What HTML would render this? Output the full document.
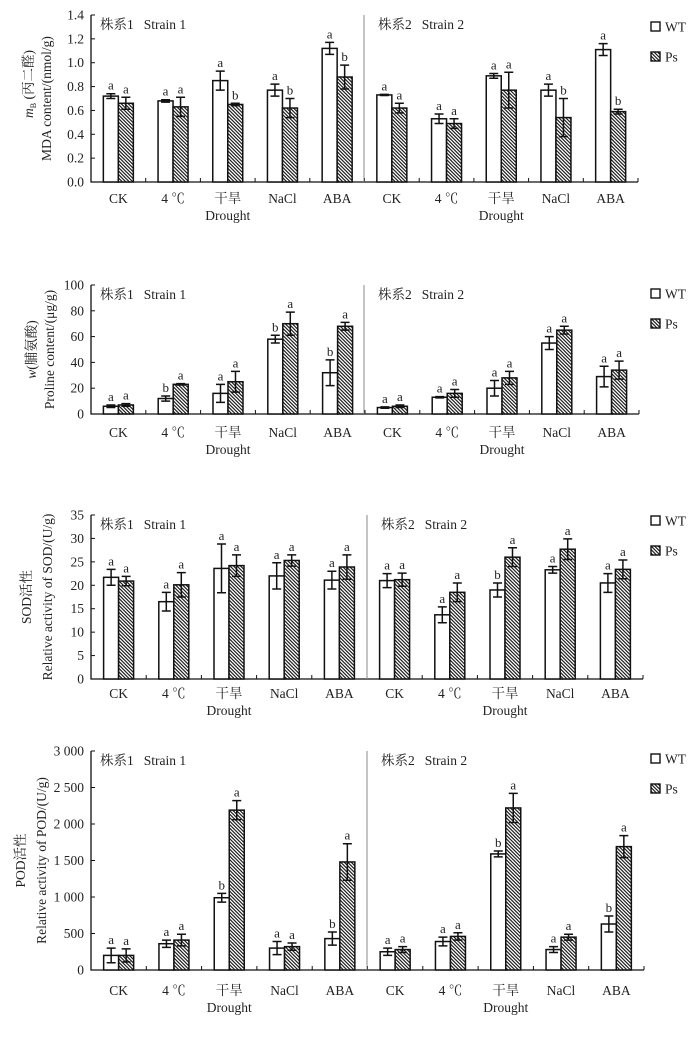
<!DOCTYPE html>
<html><head><meta charset="utf-8">
<style>
html,body{margin:0;padding:0;background:#fff;}
svg{display:block;font-family:"Liberation Serif","Noto Serif CJK SC","Noto Sans CJK SC",serif;}
</style></head>
<body>
<svg id="fig" width="700" height="1039" viewBox="0 0 700 1039" xmlns="http://www.w3.org/2000/svg">
<defs>
<pattern id="hatch" patternUnits="userSpaceOnUse" width="3.5" height="3.5">
<rect width="3.5" height="3.5" fill="#fff"/>
<path d="M0 0L3.5 3.5M-1 2.5L1 4.5M2.5 -1L4.5 1" stroke="#222" stroke-width="1.2"/>
</pattern>
</defs>
</svg>
<script>
// Shared categories
const categories = ["CK", "4 ℃", "干旱", "NaCl", "ABA"];

// Panel 1: MDA
const mdaTicks = ["0.0","0.2","0.4","0.6","0.8","1.0","1.2","1.4"];
const mdaWT1 = [0.72,0.68,0.85,0.77,1.12];
const mdaWT1Err = [0.02,0.01,0.08,0.05,0.05];
const mdaPs1 = [0.66,0.63,0.65,0.62,0.88];
const mdaPs1Err = [0.05,0.08,0.01,0.08,0.10];
const mdaWT2 = [0.73,0.53,0.89,0.77,1.11];
const mdaWT2Err = [0.005,0.04,0.02,0.05,0.05];
const mdaPs2 = [0.62,0.49,0.77,0.54,0.59];
const mdaPs2Err = [0.04,0.04,0.15,0.16,0.02];
const mdaWT1Let = ["a","a","a","a","a"], mdaPs1Let = ["a","a","b","b","b"];
const mdaWT2Let = ["a","a","a","a","a"], mdaPs2Let = ["a","a","a","b","b"];

// Panel 2: Proline
const proTicks = ["0","20","40","60","80","100"];
const proWT1 = [6,12,16,58,32];
const proWT1Err = [1,2,7,3,10];
const proPs1 = [7,23,25,70,68];
const proPs1Err = [1,0.5,8,9,3];
const proWT2 = [5,13,20,55,29];
const proWT2Err = [0.5,0.5,6,5,8];
const proPs2 = [6,16,28,65,34];
const proPs2Err = [1,3,5,3,7];
const proWT1Let = ["a","b","a","b","b"], proPs1Let = ["a","a","a","a","a"];
const proWT2Let = ["a","a","a","a","a"], proPs2Let = ["a","a","a","a","a"];

// Panel 3: SOD
const sodTicks = ["0","5","10","15","20","25","30","35"];
const sodWT1 = [21.7,16.5,23.6,22,21.1];
const sodWT1Err = [1.7,2,5.2,2.8,1.9];
const sodPs1 = [20.9,20.1,24.2,25.3,23.9];
const sodPs1Err = [1,2.6,2.3,1.2,2.6];
const sodWT2 = [21,13.7,19,23.3,20.5];
const sodWT2Err = [1.5,1.7,1.5,0.7,2];
const sodPs2 = [21.2,18.5,26,27.7,23.4];
const sodPs2Err = [1.4,2,2,2.2,2];
const sodWT1Let = ["a","a","a","a","a"], sodPs1Let = ["a","a","a","a","a"];
const sodWT2Let = ["a","a","b","a","a"], sodPs2Let = ["a","a","a","a","a"];

// Panel 4: POD
const podTicks = ["0","500","1 000","1 500","2 000","2 500","3 000"];
const podWT1 = [200,360,990,300,430];
const podWT1Err = [100,50,60,90,90];
const podPs1 = [200,410,2190,320,1480];
const podPs1Err = [90,80,130,50,250];
const podWT2 = [250,390,1590,280,630];
const podWT2Err = [50,60,40,40,110];
const podPs2 = [280,460,2220,450,1690];
const podPs2Err = [40,50,200,40,150];
const podWT1Let = ["a","a","b","a","b"], podPs1Let = ["a","a","a","a","a"];
const podWT2Let = ["a","a","b","a","b"], podPs2Let = ["a","a","a","a","a"];

const NS = "http://www.w3.org/2000/svg";
const svg = document.getElementById("fig");
function mk(tag, attrs, parent, text){
  const e = document.createElementNS(NS, tag);
  for (const k in attrs) e.setAttribute(k, attrs[k]);
  if (text !== undefined) e.textContent = text;
  (parent||svg).appendChild(e);
  return e;
}

function panel(cfg){
  const g = mk("g", {});
  
  
  const xL = 91, xR = cfg.xR, y0 = cfg.y0, yT = cfg.yT, max = cfg.max;
  const ys = v => y0 - (v/max)*(y0-yT);
  const gw = (xR-xL)/10;
  const gc = i => xL + gw*(i+0.5);
  const ax = mk("path", {d:`M${xL} ${yT}V${y0}H${xR}`, stroke:"#111", "stroke-width":1.3, fill:"none"}, g);
  
  
  cfg.ticks.forEach((t,i)=>{
    const v = max*i/(cfg.ticks.length-1);
    const y = ys(v);
    mk("line",{x1:xL,x2:xL+4,y1:y,y2:y,stroke:"#111","stroke-width":1},g);
    const tl = mk("text",{x:84,y:y+4.5,"text-anchor":"end","font-size":13.5,fill:"#222"},g,t);
    
    
  });
  for (let i=1;i<=10;i++){
    const x = xL+gw*i;
    mk("line",{x1:x,x2:x,y1:y0,y2:y0-4,stroke:"#111","stroke-width":1},g);
  }
  const dv = mk("line",{x1:cfg.div,x2:cfg.div,y1:yT,y2:y0,stroke:"#888","stroke-width":1},g);
  
  
  [[100,"株系1","Strain 1","strain-1-title"],[cfg.div+14,"株系2","Strain 2","strain-2-title"]].forEach(([x,cn,en,nm])=>{
    const s = mk("text",{x:x,y:yT+14,"font-size":13.5,fill:"#222"},g);
    
    
    mk("tspan",{},s,cn);
    mk("tspan",{dx:10},s,en);
  });
  const sets = [
    [cfg.wt1,cfg.wt1e,cfg.wt1l,0,0],[cfg.ps1,cfg.ps1e,cfg.ps1l,1,0],
    [cfg.wt2,cfg.wt2e,cfg.wt2l,0,5],[cfg.ps2,cfg.ps2e,cfg.ps2l,1,5]];
  sets.forEach(([vals,errs,lets,isPs,off])=>{
    vals.forEach((v,i)=>{
      const c = gc(i+off);
      const x = isPs ? c : c-15;
      const yt = ys(v);
      const r = mk("rect",{x:x,y:yt,width:15,height:y0-yt,fill:isPs?"url(#hatch)":"#fff",stroke:"#111","stroke-width":1.5},g);
      
      
      const cx = x+7.5, e = errs[i];
      const yh = ys(v+e), yl = ys(v-e);
      const eb = mk("path",{d:`M${cx} ${yh}V${yl}M${cx-4.5} ${yh}H${cx+4.5}M${cx-4.5} ${yl}H${cx+4.5}`,stroke:"#111","stroke-width":1.5,fill:"none"},g);
      
      
      const lt = mk("text",{x:cx,y:Math.min(yh,yt)-4,"text-anchor":"middle","font-size":13,fill:"#222"},g,lets[i]);
      
      
    });
  });
  for (let k=0;k<10;k++){
    const cl = mk("text",{x:gc(k),y:cfg.catY,"text-anchor":"middle","font-size":13.5,fill:"#222"},g,categories[k%5]);
    
    
    if (k%5===2){
      const dl = mk("text",{x:gc(k),y:cfg.catY+17,"text-anchor":"middle","font-size":13.5,fill:"#222"},g,"Drought");
      
      
    }
  }
  const ymid = (yT+y0)/2;
  const t1 = mk("text",{transform:`translate(${cfg.t1x},${cfg.t1y||ymid}) rotate(-90)`,"text-anchor":"middle","font-size":13.5,fill:"#222"},g);
  
  
  t1.innerHTML = cfg.t1;
  const t2 = mk("text",{transform:`translate(${cfg.t2x},${ymid}) rotate(-90)`,"text-anchor":"middle","font-size":13.5,fill:"#222"},g,cfg.t2);
  
  
  [["WT",cfg.legY,"#fff"],["Ps",cfg.legY+30,"url(#hatch)"]].forEach(([lab,y,f])=>{
    const b = mk("rect",{x:651,y:y-5,width:9,height:9,fill:f,stroke:"#111","stroke-width":1.4},g);
    
    
    const lt = mk("text",{x:665,y:y+4.5,"font-size":13.5,fill:"#222"},g,lab);
    
    
  });
}

panel({name:"mda-chart",xR:638,y0:182,yT:15,max:1.4,div:364,ticks:mdaTicks,
  wt1:mdaWT1,wt1e:mdaWT1Err,wt1l:mdaWT1Let,ps1:mdaPs1,ps1e:mdaPs1Err,ps1l:mdaPs1Let,
  wt2:mdaWT2,wt2e:mdaWT2Err,wt2l:mdaWT2Let,ps2:mdaPs2,ps2e:mdaPs2Err,ps2l:mdaPs2Let,
  catY:203,t1x:33,t1y:84,t1:'<tspan font-style="italic">m</tspan><tspan font-size="8" dy="3">B</tspan><tspan dy="-3"> (丙二醛)</tspan>',t2x:51,t2:"MDA content/(nmol/g)",legY:27});
panel({name:"proline-chart",xR:639,y0:414,yT:285,max:100,div:364,ticks:proTicks,
  wt1:proWT1,wt1e:proWT1Err,wt1l:proWT1Let,ps1:proPs1,ps1e:proPs1Err,ps1l:proPs1Let,
  wt2:proWT2,wt2e:proWT2Err,wt2l:proWT2Let,ps2:proPs2,ps2e:proPs2Err,ps2l:proPs2Let,
  catY:437,t1x:36,t1:'<tspan font-style="italic">w</tspan>(脯氨酸)',t2x:54,t2:"Proline content/(μg/g)",legY:294});
panel({name:"sod-chart",xR:643,y0:679,yT:515,max:35,div:367,ticks:sodTicks,
  wt1:sodWT1,wt1e:sodWT1Err,wt1l:sodWT1Let,ps1:sodPs1,ps1e:sodPs1Err,ps1l:sodPs1Let,
  wt2:sodWT2,wt2e:sodWT2Err,wt2l:sodWT2Let,ps2:sodPs2,ps2e:sodPs2Err,ps2l:sodPs2Let,
  catY:698,t1x:31,t1:'SOD活性',t2x:52,t2:"Relative activity of SOD/(U/g)",legY:521});
panel({name:"pod-chart",xR:644,y0:970,yT:751,max:3000,div:367,ticks:podTicks,
  wt1:podWT1,wt1e:podWT1Err,wt1l:podWT1Let,ps1:podPs1,ps1e:podPs1Err,ps1l:podPs1Let,
  wt2:podWT2,wt2e:podWT2Err,wt2l:podWT2Let,ps2:podPs2,ps2e:podPs2Err,ps2l:podPs2Let,
  catY:995,t1x:25,t1:'POD活性',t2x:46,t2:"Relative activity of POD/(U/g)",legY:759});
</script>
</body></html>
